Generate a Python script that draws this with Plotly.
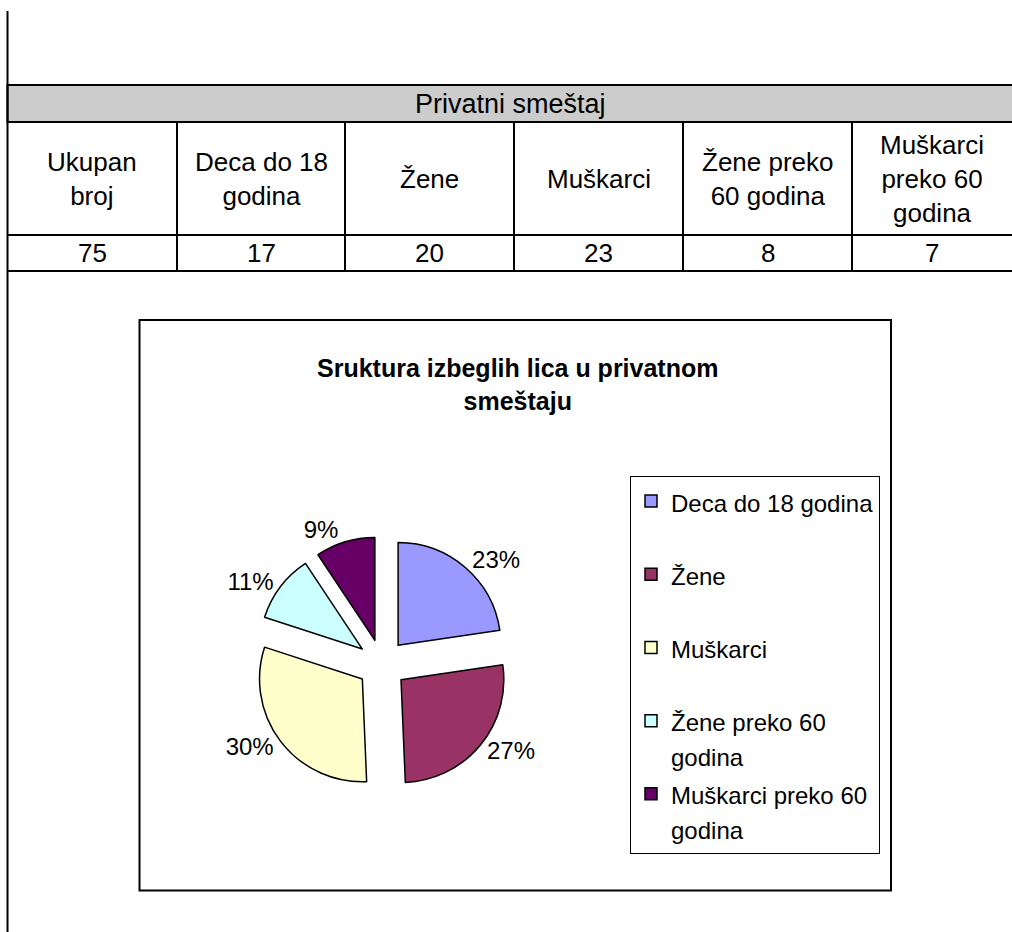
import plotly.graph_objects as go

W, H = 1012, 932

# table data
table_title = "Privatni smeštaj"
col_headers = ["Ukupan<br>broj", "Deca do 18<br>godina", "Žene", "Muškarci",
               "Žene preko<br>60 godina", "Muškarci<br>preko 60<br>godina"]
col_values = [75, 17, 20, 23, 8, 7]

# pie data
chart_title = "Sruktura izbeglih lica u privatnom<br>smeštaju"
categories = ["Deca do 18 godina", "Žene", "Muškarci",
              "Žene preko 60<br>godina", "Muškarci preko 60<br>godina"]
counts = [17, 20, 23, 8, 7]
pct_labels = ["23%", "27%", "30%", "11%", "9%"]
colors = ["#9999FF", "#993366", "#FFFFCC", "#CCFFFF", "#660066"]

FONT = "Liberation Sans, Arial, sans-serif"


def px(x):
    return x / W


def py(y):
    return 1 - y / H


def line(x0, y0, x1, y1, w=2):
    return dict(type="line", xref="paper", yref="paper",
                x0=px(x0), y0=py(y0), x1=px(x1), y1=py(y1),
                line=dict(color="black", width=w))


def text_at(txt, x, y, size, bold=False):
    if bold:
        txt = "<b>%s</b>" % txt
    return dict(text=txt, x=px(x), y=py(y), xref="paper", yref="paper",
                xanchor="center", yanchor="middle", showarrow=False,
                align="center", font=dict(family=FONT, size=size, color="black"))


# legend entries: two lines each so spacing matches, symbol on top line
def legend_label(name):
    parts = name.split("<br>")
    if len(parts) == 1:
        parts.append("&nbsp;")
    return "<br>".join('<span style="font-size:24px">%s</span>' % p for p in parts)


fig = go.Figure()

cx, cy, box = 382, 664, 255
fig.add_trace(go.Pie(
    labels=[legend_label(c) for c in categories],
    values=counts,
    text=pct_labels,
    texttemplate="%{text}",
    textposition="outside",
    textfont=dict(family=FONT, size=24, color="black"),
    sort=False,
    direction="clockwise",
    rotation=0,
    pull=[0.24] * len(counts),
    marker=dict(colors=colors, line=dict(color="black", width=1.5)),
    domain=dict(x=[px(cx - box / 2), px(cx + box / 2)],
                y=[py(cy + box / 2), py(cy - box / 2)]),
    hoverinfo="skip",
))

shapes = []
# left page line
shapes.append(line(7.5, 11, 7.5, H + 20))
# gray band with table title
shapes.append(dict(type="rect", xref="paper", yref="paper",
                   x0=px(7.5), y0=py(122), x1=px(W + 20), y1=py(85),
                   fillcolor="#CCCCCC", line=dict(color="black", width=2),
                   layer="below"))
# row lines
shapes.append(line(7.5, 235, W + 20, 235))
shapes.append(line(7.5, 271, W + 20, 271))
col_edges = [7.5, 177, 345, 514, 683, 852, 1020]
for xe in col_edges[1:-1]:
    shapes.append(line(xe, 122, xe, 271))
# chart frame
shapes.append(dict(type="rect", xref="paper", yref="paper",
                   x0=px(139.5), y0=py(890.5), x1=px(891), y1=py(320),
                   line=dict(color="black", width=2), fillcolor="rgba(0,0,0,0)"))

annotations = [text_at(table_title, 511, 104, 27)]
for i, (h, v) in enumerate(zip(col_headers, col_values)):
    xc = (col_edges[i] + min(col_edges[i + 1], W)) / 2
    annotations.append(text_at(h, xc, 179, 26))
    annotations.append(text_at(str(v), xc, 253, 26))

annotations.append(text_at(chart_title, 517, 384, 25, bold=True))

fig.update_layout(
    width=W, height=H,
    margin=dict(l=0, r=0, t=0, b=0),
    paper_bgcolor="white", plot_bgcolor="white",
    shapes=shapes,
    annotations=annotations,
    showlegend=True,
    legend=dict(x=px(630), y=py(476), xanchor="left", yanchor="top",
                font=dict(family=FONT, size=27, color="black"),
                bgcolor="white", bordercolor="black", borderwidth=1,
                valign="top", itemclick=False, itemdoubleclick=False),
)

# drop the default body margin so the figure fills the window
fig.write_html("out.html", config={"displayModeBar": False},
               post_script="document.body.style.margin = '0';")
